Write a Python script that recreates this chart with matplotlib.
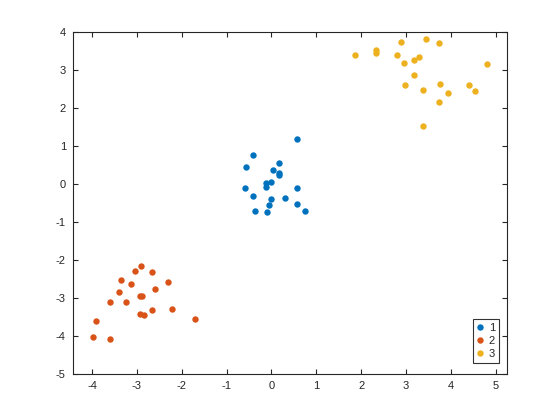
import matplotlib
matplotlib.use("Agg")
import matplotlib.pyplot as plt

plt.rcParams['font.family'] = ['Liberation Sans', 'DejaVu Sans']

groups = ['1', '2', '3']
colors = ['#0072BD', '#D95319', '#EDB120']

x1 = [0.56, -0.42, -0.56, 0.16, 0.04, 0.16, 0.18, -0.12, -0.02, -0.12,
      -0.60, 0.56, -0.42, 0.00, 0.31, -0.05, 0.56, -0.37, -0.09, 0.76]
y1 = [1.18, 0.76, 0.44, 0.54, 0.36, 0.28, 0.22, 0.02, 0.04, -0.09,
      -0.11, -0.11, -0.33, -0.40, -0.38, -0.56, -0.54, -0.72, -0.75, -0.72]

x2 = [-2.90, -3.05, -2.66, -3.35, -2.30, -3.13, -2.59, -3.41, -2.94, -2.89,
      -3.60, -3.24, -2.21, -2.66, -2.94, -2.85, -1.71, -3.91, -3.97, -3.60]
y2 = [-2.17, -2.30, -2.33, -2.54, -2.59, -2.64, -2.78, -2.86, -2.96, -2.96,
      -3.12, -3.12, -3.30, -3.33, -3.44, -3.46, -3.57, -3.62, -4.02, -4.09]

x3 = [1.87, 2.34, 2.34, 2.90, 3.44, 3.73, 2.79, 2.95, 3.17, 3.29,
      4.80, 3.19, 2.97, 3.76, 3.37, 4.40, 4.53, 3.93, 3.73, 3.37]
y3 = [3.37, 3.52, 3.44, 3.73, 3.81, 3.71, 3.37, 3.18, 3.26, 3.34,
      3.15, 2.86, 2.60, 2.63, 2.47, 2.60, 2.44, 2.39, 2.15, 1.52]

xs = [x1, x2, x3]
ys = [y1, y2, y3]

xticks = [-4, -3, -2, -1, 0, 1, 2, 3, 4, 5]
yticks = [-5, -4, -3, -2, -1, 0, 1, 2, 3, 4]

fig = plt.figure(figsize=(5.6, 4.2), dpi=100)
ax = fig.add_axes([0.13, 0.11, 0.775, 0.815])

for g, c, x, y in zip(groups, colors, xs, ys):
    ax.plot(x, y, linestyle='none', marker='o', markersize=4.6,
            markerfacecolor=c, markeredgecolor=c, markeredgewidth=0, label=g)

ax.set_xlim(-4.43, 5.25)
ax.set_ylim(-5, 4)
ax.set_xticks(xticks)
ax.set_yticks(yticks)
ax.set_xticklabels([str(t) for t in xticks])
ax.set_yticklabels([str(t) for t in yticks])

axcol = '#262626'
for s in ax.spines.values():
    s.set_color(axcol)
    s.set_linewidth(0.8)
ax.tick_params(direction='in', top=True, right=True, length=3.5, width=0.8,
               colors=axcol, labelsize=8, pad=5)

leg = ax.legend(loc='lower right', bbox_to_anchor=(0.982, 0.032),
                borderaxespad=0, fontsize=8, frameon=True, fancybox=False,
                edgecolor='black', handlelength=0.6, handletextpad=0.5,
                borderpad=0.35, labelspacing=0.26, markerscale=1.0)
leg.get_frame().set_linewidth(0.8)
for t in leg.get_texts():
    t.set_color(axcol)

fig.savefig('out.png', dpi=100)
